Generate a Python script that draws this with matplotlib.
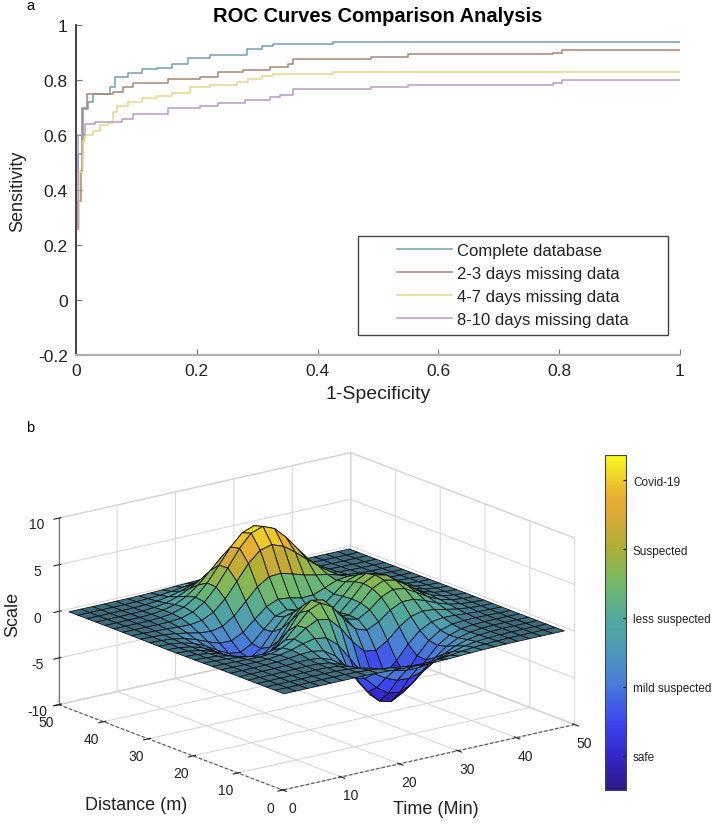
import matplotlib
matplotlib.use('Agg')
import matplotlib.pyplot as plt
import numpy as np
from matplotlib.cm import ScalarMappable
from matplotlib.colors import LinearSegmentedColormap, Normalize, to_rgba
from matplotlib.patches import Rectangle

plt.rcParams['font.family'] = ['Liberation Sans', 'DejaVu Sans']

# panel a: ROC step curves
fpr_complete = [0, 0, .003, .012, .02, .028, .051, .057, .065, .086, .109, .134, .159, .185, .222, .283, .308, .326, .425, 1]
tpr_complete = [-.2, .47, .53, .695, .72, .75, .75, .775, .81, .825, .84, .845, .858, .88, .89, .913, .924, .93, .94, .94]
fpr_23 = [0, 0, .003, .008, .01, .018, .061, .078, .094, .152, .205, .235, .276, .321, .351, .359, .488, .55, .79, .805, 1]
tpr_23 = [-.2, .26, .36, .47, .70, .75, .757, .775, .789, .804, .81, .83, .836, .847, .858, .876, .884, .894, .90, .909, .909]
fpr_47 = [0, 0, .005, .012, .015, .028, .04, .053, .061, .068, .086, .109, .134, .159, .189, .222, .267, .285, .308, .326, .425, 1]
tpr_47 = [-.2, .26, .465, .578, .60, .615, .636, .645, .684, .705, .72, .734, .742, .753, .775, .782, .793, .804, .814, .822, .828, .828]
fpr_810 = [0, 0, .003, .015, .031, .076, .094, .152, .205, .235, .28, .321, .338, .359, .488, .55, .79, .805, 1]
tpr_810 = [-.2, .26, .60, .64, .647, .66, .676, .698, .705, .716, .727, .738, .745, .767, .775, .782, .79, .80, .80]
roc_labels = ['Complete database', '2-3 days missing data', '4-7 days missing data', '8-10 days missing data']

# panel b: surface heights, one row per distance value
time_values = list(range(1, 50, 2))
distance_values = list(range(1, 50, 2))
scale_values = [
    [0, 0, 0, 0, 0, 0, .01, 0, -.03, -.07, -.13, -.19, -.24, -.25, -.22, -.16, -.11, -.06, -.03, -.01, 0, 0, 0, 0, 0],
    [0, 0, 0, 0, .01, .01, .01, -.02, -.09, -.22, -.39, -.56, -.68, -.69, -.61, -.46, -.30, -.17, -.09, -.04, -.01, 0, 0, 0, 0],
    [0, 0, 0, .01, .02, .02, 0, -.07, -.23, -.53, -.92, -1.31, -1.57, -1.60, -1.41, -1.06, -.69, -.38, -.19, -.08, -.03, -.01, 0, 0, 0],
    [0, 0, .01, .01, .03, .04, .01, -.12, -.44, -.99, -1.74, -2.51, -3.02, -3.10, -2.72, -2.05, -1.32, -.74, -.35, -.14, -.05, -.01, 0, 0, 0],
    [0, 0, .01, .02, .05, .07, .05, -.13, -.59, -1.45, -2.64, -3.88, -4.76, -4.93, -4.35, -3.27, -2.10, -1.15, -.53, -.20, -.06, -.01, 0, 0, 0],
    [0, 0, .01, .03, .07, .13, .15, .02, -.46, -1.48, -3.01, -4.70, -5.98, -6.33, -5.64, -4.24, -2.69, -1.42, -.61, -.20, -.05, 0, .01, 0, 0],
    [0, 0, .01, .03, .08, .19, .33, .39, .15, -.67, -2.18, -4.07, -5.68, -6.32, -5.76, -4.31, -2.63, -1.27, -.44, -.07, .04, .05, .03, .01, 0],
    [0, 0, -.01, -.01, .03, .17, .45, .83, 1.11, .89, -.14, -1.85, -3.61, -4.60, -4.40, -3.22, -1.74, -.56, .08, .27, .23, .13, .06, .02, .01],
    [-.01, -.03, -.06, -.10, -.13, -.05, .30, .98, 1.86, 2.46, 2.23, .99, -.72, -2.02, -2.22, -1.43, -.27, .58, .88, .77, .50, .26, .11, .04, .01],
    [-.02, -.05, -.12, -.26, -.42, -.51, -.28, .49, 1.78, 3.09, 3.63, 2.94, 1.40, 0, -.41, .20, 1.18, 1.79, 1.78, 1.35, .82, .41, .18, .06, .02],
    [-.03, -.08, -.20, -.44, -.80, -1.16, -1.21, -.60, .80, 2.49, 3.55, 3.30, 2.00, .70, .39, 1.14, 2.20, 2.76, 2.56, 1.88, 1.12, .56, .24, .09, .03],
    [-.03, -.10, -.27, -.60, -1.14, -1.78, -2.16, -1.84, -.56, 1.23, 2.56, 2.62, 1.58, .53, .48, 1.49, 2.76, 3.37, 3.09, 2.25, 1.34, .67, .28, .10, .03],
    [-.04, -.11, -.30, -.69, -1.33, -2.15, -2.77, -2.71, -1.65, .07, 1.48, 1.75, .98, .19, .38, 1.57, 2.94, 3.58, 3.27, 2.37, 1.41, .70, .30, .11, .03],
    [-.04, -.11, -.29, -.67, -1.32, -2.16, -2.87, -2.98, -2.15, -.64, .68, 1.06, .52, -.03, .28, 1.47, 2.76, 3.36, 3.06, 2.22, 1.32, .66, .28, .10, .03],
    [-.03, -.09, -.25, -.57, -1.12, -1.85, -2.49, -2.64, -2.00, -.76, .39, .80, .46, .09, .38, 1.34, 2.38, 2.83, 2.56, 1.85, 1.09, .54, .23, .08, .03],
    [-.02, -.07, -.18, -.42, -.81, -1.33, -1.76, -1.78, -1.16, -.05, 1.04, 1.55, 1.42, 1.12, 1.17, 1.65, 2.17, 2.32, 1.99, 1.40, .82, .40, .17, .06, .02],
    [-.01, -.04, -.11, -.25, -.48, -.74, -.86, -.60, .23, 1.51, 2.79, 3.59, 3.69, 3.34, 2.94, 2.66, 2.44, 2.09, 1.58, 1.04, .58, .28, .11, .04, .01],
    [-.01, -.02, -.06, -.12, -.20, -.23, -.05, .55, 1.69, 3.29, 4.92, 6.07, 6.39, 5.94, 5.02, 3.97, 2.97, 2.09, 1.35, .79, .41, .19, .07, .03, .01],
    [0, -.01, -.02, -.03, -.01, .11, .48, 1.27, 2.61, 4.37, 6.19, 7.54, 7.99, 7.47, 6.25, 4.72, 3.25, 2.05, 1.18, .62, .29, .12, .05, .02, 0],
    [0, 0, 0, .01, .07, .24, .65, 1.43, 2.67, 4.29, 5.96, 7.22, 7.68, 7.20, 5.99, 4.45, 2.96, 1.78, .96, .47, .21, .08, .03, .01, 0],
    [0, 0, .01, .02, .08, .23, .55, 1.16, 2.10, 3.31, 4.56, 5.51, 5.86, 5.50, 4.57, 3.37, 2.21, 1.29, .68, .32, .13, .05, .02, .01, 0],
    [0, 0, .01, .02, .06, .16, .36, .74, 1.32, 2.07, 2.84, 3.43, 3.65, 3.43, 2.84, 2.09, 1.36, .79, .41, .19, .08, .03, .01, 0, 0],
    [0, 0, 0, .01, .03, .08, .19, .39, .69, 1.07, 1.47, 1.77, 1.88, 1.77, 1.47, 1.08, .70, .40, .21, .09, .04, .01, 0, 0, 0],
    [0, 0, 0, .01, .01, .04, .09, .17, .30, .47, .64, .77, .82, .77, .64, .47, .30, .17, .09, .04, .02, .01, 0, 0, 0],
    [0, 0, 0, 0, .01, .01, .03, .06, .11, .17, .23, .27, .29, .27, .23, .17, .11, .06, .03, .01, .01, 0, 0, 0, 0],
]
colorbar_ticks = [-5, -2, 1, 4, 7]
colorbar_labels = ['safe', 'mild suspected', 'less suspected', 'Suspected', 'Covid-19']

W, H = 716, 828
fig = plt.figure(figsize=(W / 100, H / 100), dpi=100)


def box(left, top, right, bottom):
    # pixel box to figure fractions
    return [left / W, 1 - bottom / H, (right - left) / W, (bottom - top) / H]


# --- panel a ---
ax = fig.add_axes(box(76, 26, 680, 356))
ax.step(fpr_complete, tpr_complete, where='post', color='#6f9fb4', lw=1.1, label=roc_labels[0])
ax.step(fpr_23, tpr_23, where='post', color='#a88674', lw=1.1, label=roc_labels[1])
ax.step(fpr_47, tpr_47, where='post', color='#e6d68c', lw=1.1, label=roc_labels[2])
ax.step(fpr_810, tpr_810, where='post', color='#b79ac8', lw=1.1, label=roc_labels[3])
ax.set_xlim(0, 1)
ax.set_ylim(-.2, 1)
ax.set_xticks([0, .2, .4, .6, .8, 1], ['0', '0.2', '0.4', '0.6', '0.8', '1'])
ax.set_yticks([-.2, 0, .2, .4, .6, .8, 1], ['-0.2', '0', '0.2', '0.4', '0.6', '0.8', '1'])
ax.tick_params(direction='in', length=4, width=.8, color='#777777', labelsize=12.5, labelcolor='#222222', pad=6)
ax.spines['top'].set_visible(False)
ax.spines['right'].set_visible(False)
ax.spines['left'].set_color('#444444')
ax.spines['left'].set_linewidth(1.4)
ax.spines['bottom'].set_color('#b0b0b0')
ax.spines['bottom'].set_linewidth(1.6)
ax.set_title('ROC Curves Comparison Analysis', fontsize=14.5, fontweight='bold', pad=2)
ax.set_xlabel('1-Specificity', fontsize=14, labelpad=5, color='#222222')
ax.set_ylabel('Sensitivity', fontsize=13, labelpad=8, color='#222222')

# legend frame is drawn apart, the entries start well inside it
ax.add_patch(Rectangle(((358 - 76) / 604, (356 - 336) / 330), 310 / 604, 99 / 330, transform=ax.transAxes,
                       facecolor='white', edgecolor='#444444', lw=1.0, zorder=4))
leg = ax.legend(loc='upper left', bbox_to_anchor=((397 - 76) / 604, (356 - 244) / 330), frameon=False,
                borderaxespad=0, borderpad=0, fontsize=12, handlelength=3.3, handletextpad=.3, labelspacing=.48)
leg.set_zorder(5)
for t in leg.get_texts():
    t.set_color('#222222')

fig.text(30 / W, 1 - 6 / H, 'a', fontsize=10.5, ha='center', va='center')
fig.text(30 / W, 1 - 428 / H, 'b', fontsize=10.5, ha='center', va='center')

# --- panel b ---
cmap = LinearSegmentedColormap.from_list('covid', [
    (0, '#2a1a86'), (.1, '#3426c8'), (.2, '#3c46f0'), (.32, '#4a7ed8'), (.44, '#4f9db0'),
    (.52, '#52aa98'), (.62, '#74ba66'), (.72, '#a8b034'), (.82, '#dca838'), (.88, '#e8b030'),
    (1, '#f8f820')])
norm = Normalize(-6.5, 8.1)
Z = np.array(scale_values)
T, D = np.meshgrid(time_values, distance_values)

# flat cells read darker in the reference, its mesh is so dense there
corners = np.stack([Z[:-1, :-1], Z[1:, :-1], Z[:-1, 1:], Z[1:, 1:]])
faces = cmap(norm(corners.mean(axis=0)))
flat = np.clip(1 - np.ptp(corners, axis=0) / .6, 0, 1)[..., None]
faces = faces * (1 - flat) + np.array(to_rgba('#3d6c7e')) * flat

ax3 = fig.add_axes(box(-12, 311, 628, 951), projection='3d', proj_type='ortho')
ax3.patch.set_visible(False)
surf = ax3.plot_surface(T, D, Z, rstride=1, cstride=1, facecolors=faces, linewidth=.6, shade=False, antialiased=True)
surf.set_edgecolor('#111111')
ax3.view_init(elev=17, azim=-127.5)
ax3.set_box_aspect((1, 1, .53), zoom=.843)
ax3.set_xlim(0, 50)
ax3.set_ylim(0, 50)
ax3.set_zlim(-10, 10)
ax3.set_xticks([0, 10, 20, 30, 40, 50])
ax3.set_yticks([0, 10, 20, 30, 40, 50])
ax3.set_zticks([-10, -5, 0, 5, 10], ['-10', '-5', '0', '5', '10'])
ax3.tick_params(labelsize=10, colors='#222222', pad=2)
for a in (ax3.xaxis, ax3.yaxis, ax3.zaxis):
    a.set_pane_color((1, 1, 1, 1))
    a.pane.set_edgecolor('#dddddd')
    a._axinfo['grid'].update(color='#d4d4d4', linewidth=.7)
ax3.xaxis.line.set_color('#555555')
ax3.yaxis.line.set_color('#555555')
ax3.zaxis.line.set_color('#777777')
ax3.xaxis.line.set_linestyle((0, (3, 2)))
ax3.yaxis.line.set_linestyle((0, (3, 2)))

fig.text(13 / W, 1 - 614 / H, 'Scale', fontsize=13, rotation=90, ha='center', va='center', color='#222222')
fig.text(136 / W, 1 - 806 / H, 'Distance (m)', fontsize=13, ha='center', va='center', color='#222222')
fig.text(436 / W, 1 - 810 / H, 'Time (Min)', fontsize=13, ha='center', va='center', color='#222222')

cax = fig.add_axes(box(605, 456, 626, 791))
cb = fig.colorbar(ScalarMappable(norm=norm, cmap=cmap), cax=cax)
cb.set_ticks(colorbar_ticks, labels=colorbar_labels)
cax.tick_params(direction='in', length=2.5, width=.8, labelsize=8.5, pad=5, labelcolor='#222222')
cb.outline.set_edgecolor('#444444')
cb.outline.set_linewidth(.8)

fig.savefig('out.png', dpi=100)
